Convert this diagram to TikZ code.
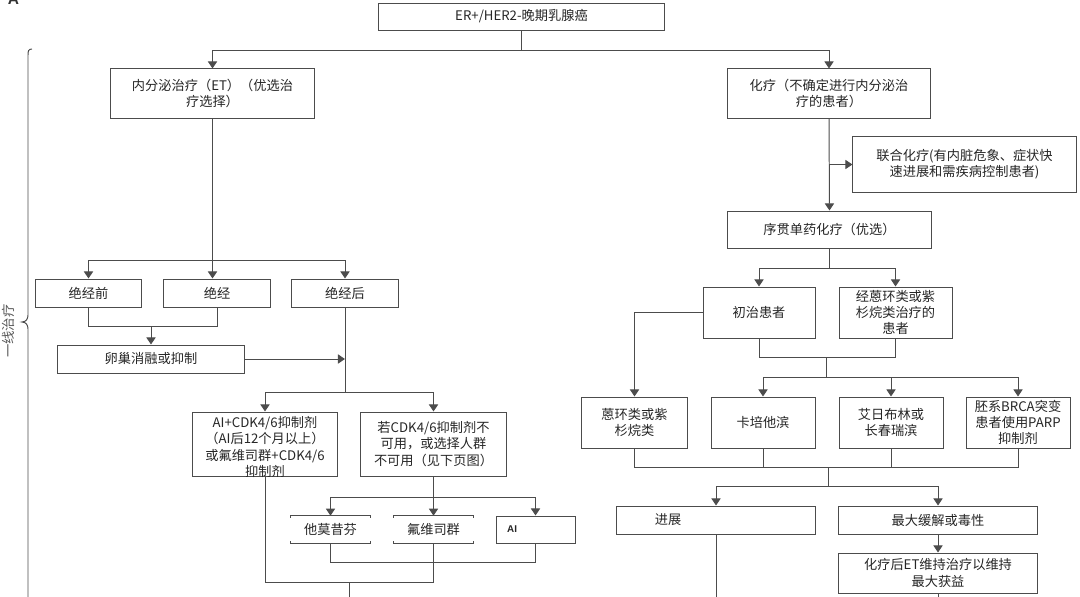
\documentclass[tikz,border=0pt]{standalone}
\usepackage{fontspec}
\newfontfamily\cjk{Noto Sans CJK SC}
\newfontfamily\lsans{Liberation Sans}
\usetikzlibrary{arrows.meta}
\begin{document}
\begin{tikzpicture}[x=0.025cm,y=-0.025cm,
  ln/.style={draw=black!70,line width=0.7pt},
  arr/.style={ln,-{Triangle[width=6.5pt,length=5pt]}},
  txt/.style={align=center,text=black!85,font=\cjk\fontsize{9.4}{11.6}\selectfont},
  box/.style={txt,draw=black!70,line width=0.7pt,inner xsep=2pt,inner ysep=1pt}]
\useasboundingbox (0,0) rectangle (1080,597);
\node[anchor=south,inner sep=0pt,text=black!80,font=\lsans\bfseries\fontsize{11}{12}\selectfont] (letter) at (13.5,5) {A};
\node[box,minimum width=7.125cm,minimum height=0.675cm] (top) at (521.5,16.5) {ER+/HER2-晚期乳腺癌};
\node[box,minimum width=5.075cm,minimum height=1.225cm] (et) at (212.5,93.5) {内分泌治疗（ET）（优选治\\疗选择）};
\node[box,minimum width=5.05cm,minimum height=1.225cm] (chemo) at (829,93.5) {化疗（不确定进行内分泌治\\疗的患者）};
\node[box,minimum width=5.575cm,minimum height=1.375cm] (combo) at (964.5,164.5) {联合化疗(有内脏危象、症状快\\速进展和需疾病控制患者)};
\node[box,minimum width=5.075cm,minimum height=0.925cm] (seq) at (829.5,229.5) {序贯单药化疗（优选）};
\node[box,minimum width=2.8cm,minimum height=1.275cm] (naive) at (759,312.5) {初治患者};
\node[box,minimum width=2.825cm,minimum height=1.275cm] (pretx) at (895.5,312.5) {经蒽环类或紫\\杉烷类治疗的\\患者};
\node[box,minimum width=2.625cm,minimum height=1.275cm] (anth) at (634.5,422.5) {蒽环类或紫\\杉烷类};
\node[box,minimum width=2.6cm,minimum height=1.275cm] (cape) at (763,422.5) {卡培他滨};
\node[box,minimum width=2.6cm,minimum height=1.275cm] (eri) at (891,422.5) {艾日布林或\\长春瑞滨};
\node[box,minimum width=2.6cm,minimum height=1.275cm] (parp) at (1018,422.5) {胚系BRCA突变\\患者使用PARP\\抑制剂};
\node[box,minimum height=0.7cm,inner xsep=0.95cm,text width=3.05cm,align=left] (prog) at (716,520) {进展};
\node[box,minimum width=4.95cm,minimum height=0.7cm] (maxresp) at (938,520) {最大缓解或毒性};
\node[box,minimum width=4.95cm,minimum height=1cm] (maint) at (938,573) {化疗后ET维持治疗以维持\\最大获益};
\node[box,minimum width=2.625cm,minimum height=0.7cm] (pre) at (88.5,293) {绝经前};
\node[box,minimum width=2.65cm,minimum height=0.7cm] (peri) at (217,293) {绝经};
\node[box,minimum width=2.65cm,minimum height=0.7cm] (post) at (345,293) {绝经后};
\node[box,minimum width=4.65cm,minimum height=0.7cm] (ovary) at (151,359) {卵巢消融或抑制};
\node[box,minimum width=3.625cm,minimum height=1.6cm] (cdk) at (265,444) {};
\node[txt] (cdktext) at (265,447) {AI+CDK4/6抑制剂\\（AI后12个月以上）\\或氟维司群+CDK4/6\\抑制剂};
\node[box,minimum width=3.625cm,minimum height=1.6cm] (nocdk) at (433.5,444) {若CDK4/6抑制剂不\\可用，或选择人群\\不可用（见下页图）};
\node[txt,minimum width=1.975cm,minimum height=0.675cm] (tam) at (330.5,529.5) {他莫昔芬};
\node[txt,minimum width=1.975cm,minimum height=0.675cm] (ful) at (433.5,529.5) {氟维司群};
\node[box,minimum height=0.675cm,inner xsep=0.28cm,text width=1.415cm,align=left,font=\lsans\bfseries\fontsize{7}{8}\selectfont] (ai) at (535.5,529.5) {AI};
\node[rotate=90,text=black!65,font=\cjk\fontsize{9.5}{11}\selectfont] (first) at (8,331) {一线治疗};
\foreach \n in {tam,ful}{
  \draw[ln] ([yshift=-1.5pt]\n.north west) -- (\n.north west) -- (\n.north east) -- ([yshift=-1.5pt]\n.north east);
  \draw[ln] ([yshift=1.5pt]\n.south west) -- (\n.south west) -- (\n.south east) -- ([yshift=1.5pt]\n.south east);
}
\draw[ln] (32,49) .. controls (28.5,49) and (28,51) .. (28,55) -- (28,315) .. controls (28,319) and (26,322) .. (22,322) .. controls (26,322) and (28,325) .. (28,329) -- (28,600);
\draw[ln] (top.south) -- (top.south |- 0,50) coordinate (t1);
\draw[arr] (t1) -| (et.north);
\draw[arr] (t1) -| (chemo.north);
\draw[ln] (et.south) -- (et.south |- 0,260) coordinate (e1);
\draw[arr] (e1) -| (pre.north);
\draw[arr] (e1) -- (e1 |- peri.north);
\draw[arr] (e1) -| (post.north);
\draw[ln] (pre.south) |- (peri.south |- 0,326) -- (peri.south);
\coordinate (j1) at (151,326);
\draw[arr] (j1) -- (ovary.north);
\draw[arr] (ovary.east) -- (ovary.east -| post.south);
\draw[ln] (post.south) -- (post.south |- 0,392) coordinate (p1);
\draw[arr] (p1) -| (cdk.north);
\draw[arr] (p1) -| (nocdk.north);
\draw[ln] (nocdk.south) -- (nocdk.south |- 0,497) coordinate (n1);
\draw[arr] (n1) -| (tam.north);
\draw[arr] (n1) -- (ful.north);
\draw[arr] (n1) -| (ai.north);
\draw[ln] (tam.south) |- (ai.south |- 0,562) -- (ai.south);
\draw[ln] (ful.south) -- (ful.south |- 0,582);
\draw[ln] (cdk.south) |- (ful.south |- 0,582);
\coordinate (lj) at (349,582);
\coordinate (lend) at (349,600);
\draw[ln] (lj) -- (lend);
\draw[arr] (chemo.south) -- (seq.north);
\draw[arr] (chemo.south |- combo.west) -- (combo.west);
\draw[ln] (seq.south) -- (seq.south |- 0,268) coordinate (q1);
\draw[arr] (q1) -| (naive.north);
\draw[arr] (q1) -| (pretx.north);
\draw[arr] (naive.west) -| (anth.north);
\draw[ln] (naive.south) |- (pretx.south |- 0,357) -- (pretx.south);
\coordinate (q2) at (826,357);
\coordinate (q3) at (826,377);
\draw[ln] (q2) -- (q3);
\draw[arr] (q3) -| (cape.north);
\draw[arr] (q3) -| (eri.north);
\draw[arr] (q3) -| (parp.north);
\draw[ln] (anth.south) |- (parp.south |- 0,467) -- (parp.south);
\draw[ln] (cape.south) -- (cape.south |- 0,467);
\draw[ln] (eri.south) -- (eri.south |- 0,467);
\coordinate (r1) at (828,467);
\coordinate (r2) at (828,486);
\draw[ln] (r1) -- (r2);
\draw[arr] (r2) -| (prog.north);
\draw[arr] (r2) -| (maxresp.north);
\draw[arr] (maxresp.south) -- (maint.north);
\coordinate (progend) at (716,600);
\coordinate (maintend) at (938,600);
\draw[ln] (prog.south) -- (progend);
\draw[ln] (maint.south) -- (maintend);
\end{tikzpicture}
\end{document}
